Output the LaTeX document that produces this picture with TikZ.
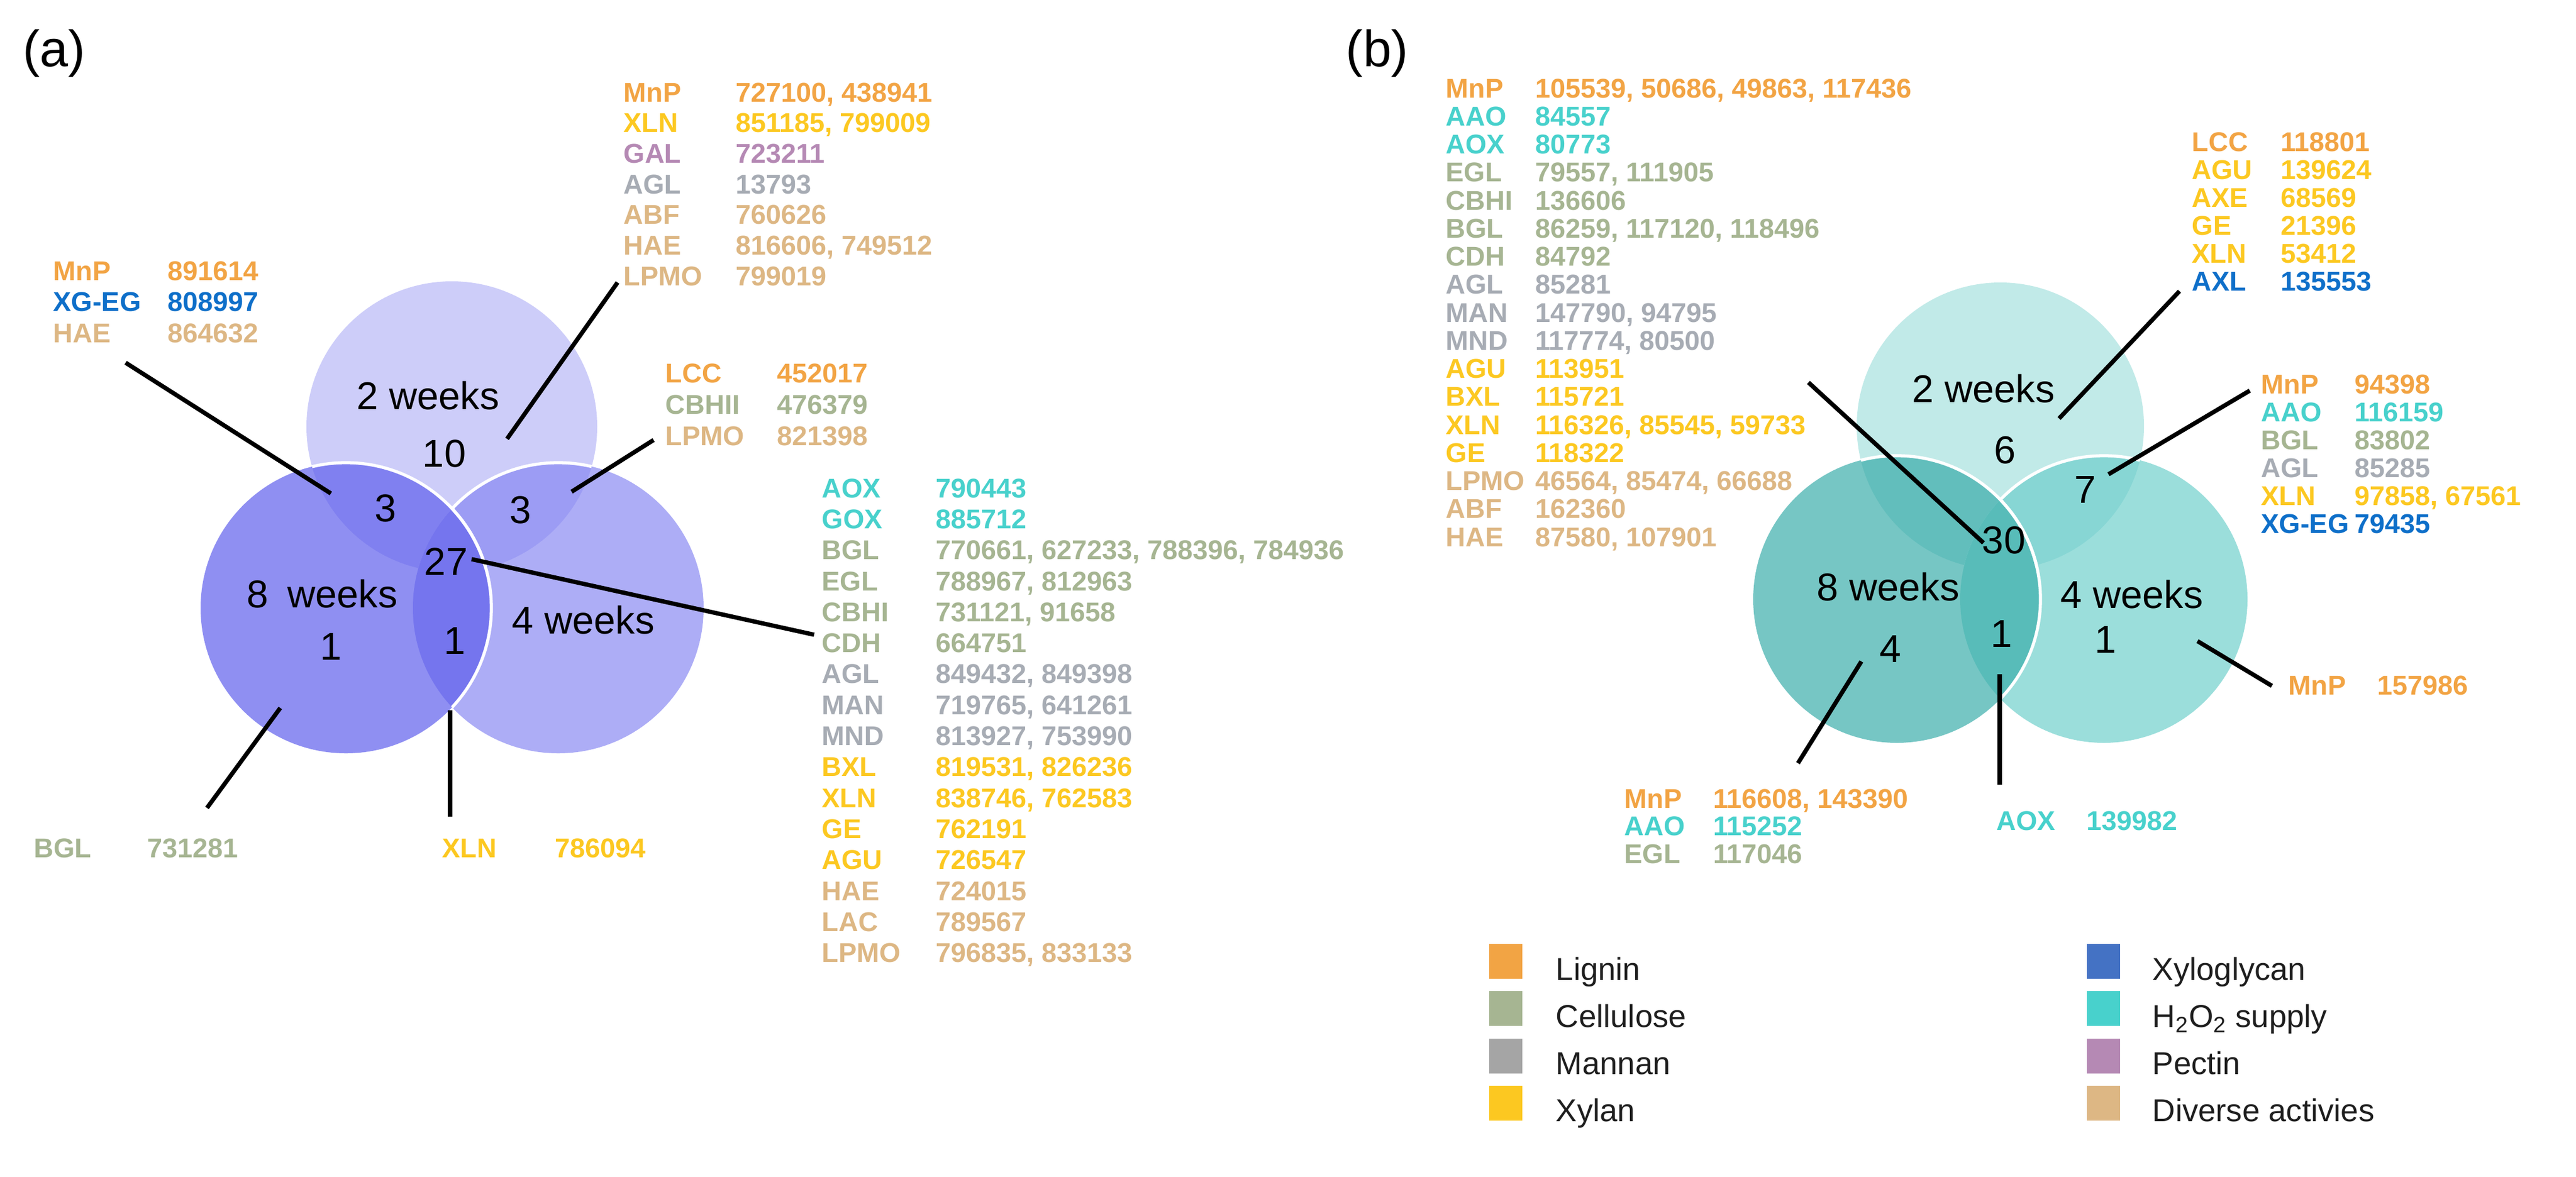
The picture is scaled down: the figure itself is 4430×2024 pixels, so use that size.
\documentclass[tikz,border=0pt]{standalone}
\usepackage{fontspec}
\setmainfont{Liberation Sans}
\usetikzlibrary{calc}
\definecolor{caT}{HTML}{CDCDF9}
\definecolor{caR}{HTML}{ADADF6}
\definecolor{caL}{HTML}{8F8FF2}
\definecolor{caTL}{HTML}{8080F0}
\definecolor{caTR}{HTML}{9C9CF4}
\definecolor{caLR}{HTML}{7575EE}
\definecolor{cbT}{HTML}{C1EAE8}
\definecolor{cbR}{HTML}{9BDEDB}
\definecolor{cbL}{HTML}{76C6C4}
\definecolor{cbTL}{HTML}{62BEBC}
\definecolor{cbTR}{HTML}{87D6D4}
\definecolor{cbLR}{HTML}{58BCB9}
\definecolor{tlig}{HTML}{F2A444}
\definecolor{tcel}{HTML}{A6B592}
\definecolor{tman}{HTML}{A7ACB4}
\definecolor{txyl}{HTML}{FCC821}
\definecolor{txg}{HTML}{0E6FC9}
\definecolor{th2o}{HTML}{48D1CC}
\definecolor{tpec}{HTML}{B589B4}
\definecolor{tdiv}{HTML}{DDB784}
\definecolor{blig}{HTML}{F2A444}
\definecolor{bcel}{HTML}{A6B592}
\definecolor{bman}{HTML}{A5A5A5}
\definecolor{bxyl}{HTML}{FCC821}
\definecolor{bxg}{HTML}{4472C4}
\definecolor{bh2o}{HTML}{48D1CC}
\definecolor{bpec}{HTML}{B589B4}
\definecolor{bdiv}{HTML}{DDB784}
\definecolor{legtext}{HTML}{1E1E1E}
\newdimen\pxu \pxu=0.28346pt
\newcommand\lrow[3]{\makebox[#1\pxu][l]{#2}#3}
\begin{document}
\begin{tikzpicture}[x=0.01cm,y=-0.01cm,
  lbl/.style={font=\fontsize{13.3}{16}\selectfont\bfseries, inner sep=0pt, anchor=base west},
  cnum/.style={font=\fontsize{19}{23}\selectfont, inner sep=0pt, anchor=center},
  legtxt/.style={font=\fontsize{15.5}{18}\selectfont, text=legtext, inner sep=0pt, anchor=base west},
  legbox/.style={inner sep=0pt, minimum width=57\pxu, minimum height=60\pxu, anchor=north west},
  conn/.style={line width=2.1pt, black},
  wline/.style={draw=white, line width=1.5pt},
  paneltag/.style={font=\fontsize{25}{30}\selectfont, inner sep=0pt, anchor=base west}]
\useasboundingbox (0,0) rectangle (4430,2024);
\fill[white] (0,0) rectangle (4430,2024);

% ---------------- panel (a) circles
\coordinate (aT) at (777,734);
\coordinate (aL) at (595,1046);
\coordinate (aR) at (960,1046);
\fill[caT] (aT) circle[radius=250];
\fill[caR] (aR) circle[radius=250];
\fill[caL] (aL) circle[radius=250];
\begin{scope}
  \clip (aT) circle[radius=250];
  \fill[caTL] (aL) circle[radius=250];
  \fill[caTR] (aR) circle[radius=250];
\end{scope}
\begin{scope}
  \clip (aL) circle[radius=250];
  \fill[caLR] (aR) circle[radius=250];
\end{scope}
\begin{scope}
  \clip (aT) circle[radius=250];
  \draw[wline] (aL) circle[radius=250];
\end{scope}
\begin{scope}
  \clip (aR) circle[radius=250];
  \draw[wline] (aL) circle[radius=250];
\end{scope}
\begin{scope}
  \clip (aT) circle[radius=250];
  \begin{scope}[even odd rule]
    \clip (-10,-10) rectangle (4440,2040) (aL) circle[radius=250];
    \draw[wline] (aR) circle[radius=250];
  \end{scope}
\end{scope}

% ---------------- panel (b) circles
\coordinate (bT) at (3440,733);
\coordinate (bL) at (3262,1031);
\coordinate (bR) at (3618,1031);
\fill[cbT] (bT) circle[radius=247];
\fill[cbR] (bR) circle[radius=247];
\fill[cbL] (bL) circle[radius=247];
\begin{scope}
  \clip (bT) circle[radius=247];
  \fill[cbTL] (bL) circle[radius=247];
  \fill[cbTR] (bR) circle[radius=247];
\end{scope}
\begin{scope}
  \clip (bL) circle[radius=247];
  \fill[cbLR] (bR) circle[radius=247];
\end{scope}
\begin{scope}
  \clip (bT) circle[radius=247];
  \draw[wline] (bL) circle[radius=247];
\end{scope}
\begin{scope}
  \clip (bR) circle[radius=247];
  \draw[wline] (bL) circle[radius=247];
\end{scope}
\begin{scope}
  \clip (bT) circle[radius=247];
  \begin{scope}[even odd rule]
    \clip (-10,-10) rectangle (4440,2040) (bL) circle[radius=247];
    \draw[wline] (bR) circle[radius=247];
  \end{scope}
\end{scope}

% ---------------- panel tags
\node[paneltag] (tagA) at (39,114) {(a)};
\node[paneltag] (tagB) at (2314,114) {(b)};

% ---------------- circle texts (a)
\node[cnum] (a2w) at (736,681) {2 weeks};
\node[cnum] (a10) at (764,780) {10};
\node[cnum] (a3l) at (663,874) {3};
\node[cnum] (a3r) at (895,877) {3};
\node[cnum] (a27) at (767,966) {27};
\node[cnum] (a8w) at (554,1022) {8\hspace{4pt} weeks};
\node[cnum] (a1l) at (569,1112) {1};
\node[cnum] (a1c) at (782,1103) {1};
\node[cnum] (a4w) at (1003,1067) {4 weeks};

% ---------------- circle texts (b)
\node[cnum] (b2w) at (3411,669) {2 weeks};
\node[cnum] (b6) at (3448,774) {6};
\node[cnum] (b7) at (3586,843) {7};
\node[cnum] (b30) at (3446,929) {30};
\node[cnum] (b8w) at (3247,1010) {8 weeks};
\node[cnum] (b4) at (3251,1117) {4};
\node[cnum] (b1c) at (3442,1091) {1};
\node[cnum] (b4w) at (3666,1023) {4 weeks};
\node[cnum] (b1r) at (3621,1101) {1};

% ---------------- connectors (a)
\coordinate (ka1s) at (216,624);  \coordinate (ka1e) at (569,849);
\coordinate (ka2s) at (872,755);  \coordinate (ka2e) at (1062,486);
\coordinate (ka3s) at (983,846);  \coordinate (ka3e) at (1124,757);
\coordinate (ka4s) at (811,962);  \coordinate (ka4e) at (1400,1092);
\coordinate (ka5s) at (482,1218); \coordinate (ka5e) at (356,1390);
\coordinate (ka6s) at (774,1222); \coordinate (ka6e) at (774,1405);
\foreach \k in {1,...,6} \draw[conn] (ka\k s) -- (ka\k e);

% ---------------- connectors (b)
\coordinate (kb1s) at (3110,658);  \coordinate (kb1e) at (3411,934);
\coordinate (kb2s) at (3541,720);  \coordinate (kb2e) at (3748,501);
\coordinate (kb3s) at (3626,816);  \coordinate (kb3e) at (3869,672);
\coordinate (kb4s) at (3779,1103); \coordinate (kb4e) at (3907,1180);
\coordinate (kb5s) at (3201,1138); \coordinate (kb5e) at (3092,1313);
\coordinate (kb6s) at (3439,1160); \coordinate (kb6e) at (3439,1350);
\foreach \k in {1,...,6} \draw[conn] (kb\k s) -- (kb\k e);

% ---------------- label blocks (a)
\foreach \c/\l/\n [count=\i from 0] in {tlig/MnP/891614, txg/XG-EG/808997, tdiv/HAE/864632}
  \node[lbl, text=\c] (la1-\i) at (91,482+53.5*\i) {\lrow{197}{\l}{\n}};
\foreach \c/\l/\n [count=\i from 0] in {tlig/MnP/{727100, 438941}, txyl/XLN/{851185, 799009}, tpec/GAL/723211, tman/AGL/13793, tdiv/ABF/760626, tdiv/HAE/{816606, 749512}, tdiv/LPMO/799019}
  \node[lbl, text=\c] (la2-\i) at (1072,175+52.7*\i) {\lrow{193}{\l}{\n}};
\foreach \c/\l/\n [count=\i from 0] in {tlig/LCC/452017, tcel/CBHII/476379, tdiv/LPMO/821398}
  \node[lbl, text=\c] (la3-\i) at (1144,658+54*\i) {\lrow{192}{\l}{\n}};
\foreach \c/\l/\n [count=\i from 0] in {th2o/AOX/790443, th2o/GOX/885712, tcel/BGL/{770661, 627233, 788396, 784936}, tcel/EGL/{788967, 812963}, tcel/CBHI/{731121, 91658}, tcel/CDH/664751, tman/AGL/{849432, 849398}, tman/MAN/{719765, 641261}, tman/MND/{813927, 753990}, txyl/BXL/{819531, 826236}, txyl/XLN/{838746, 762583}, txyl/GE/762191, txyl/AGU/726547, tdiv/HAE/724015, tdiv/LAC/789567, tdiv/LPMO/{796835, 833133}}
  \node[lbl, text=\c] (la4-\i) at (1413,856+53.33*\i) {\lrow{196}{\l}{\n}};
\node[lbl, text=tcel] (la5) at (58,1475) {\lrow{195}{BGL}{731281}};
\node[lbl, text=txyl] (la6) at (760,1475) {\lrow{194}{XLN}{786094}};

% ---------------- label blocks (b)
\foreach \c/\l/\n [count=\i from 0] in {tlig/MnP/{105539, 50686, 49863, 117436}, th2o/AAO/84557, th2o/AOX/80773, tcel/EGL/{79557, 111905}, tcel/CBHI/136606, tcel/BGL/{86259, 117120, 118496}, tcel/CDH/84792, tman/AGL/85281, tman/MAN/{147790, 94795}, tman/MND/{117774, 80500}, txyl/AGU/113951, txyl/BXL/115721, txyl/XLN/{116326, 85545, 59733}, txyl/GE/118322, tdiv/LPMO/{46564, 85474, 66688}, tdiv/ABF/162360, tdiv/HAE/{87580, 107901}}
  \node[lbl, text=\c] (lb1-\i) at (2486,168+48.25*\i) {\lrow{154}{\l}{\n}};
\foreach \c/\l/\n [count=\i from 0] in {tlig/LCC/118801, txyl/AGU/139624, txyl/AXE/68569, txyl/GE/21396, txyl/XLN/53412, txg/AXL/135553}
  \node[lbl, text=\c] (lb2-\i) at (3769,260+48*\i) {\lrow{153}{\l}{\n}};
\foreach \c/\l/\n [count=\i from 0] in {tlig/MnP/94398, th2o/AAO/116159, tcel/BGL/83802, tman/AGL/85285, txyl/XLN/{97858, 67561}, txg/XG-EG/79435}
  \node[lbl, text=\c] (lb3-\i) at (3888,677+48*\i) {\lrow{161}{\l}{\n}};
\node[lbl, text=tlig] (lb4) at (3935,1195) {\lrow{153}{MnP}{157986}};
\foreach \c/\l/\n [count=\i from 0] in {tlig/MnP/{116608, 143390}, th2o/AAO/115252, tcel/EGL/117046}
  \node[lbl, text=\c] (lb5-\i) at (2793,1390+47.5*\i) {\lrow{153}{\l}{\n}};
\node[lbl, text=th2o] (lb6) at (3433,1428) {\lrow{155}{AOX}{139982}};

% ---------------- legend
\foreach \c/\t [count=\i from 0] in {blig/Lignin, bcel/Cellulose, bman/Mannan, bxyl/Xylan}
{
  \node[legbox, fill=\c] (lgl-\i) at (2560,1623+81.5*\i) {};
  \node[legtxt] (lglt-\i) at (2675,1686+81*\i) {\t};
}
\foreach \c/\t [count=\i from 0] in {bxg/Xyloglycan, bh2o/{H\textsubscript{2}O\textsubscript{2} supply}, bpec/Pectin, bdiv/Diverse activies}
{
  \node[legbox, fill=\c] (lgr-\i) at (3588,1623+81.5*\i) {};
  \node[legtxt] (lgrt-\i) at (3701,1686+81*\i) {\t};
}
\end{tikzpicture}
\end{document}
